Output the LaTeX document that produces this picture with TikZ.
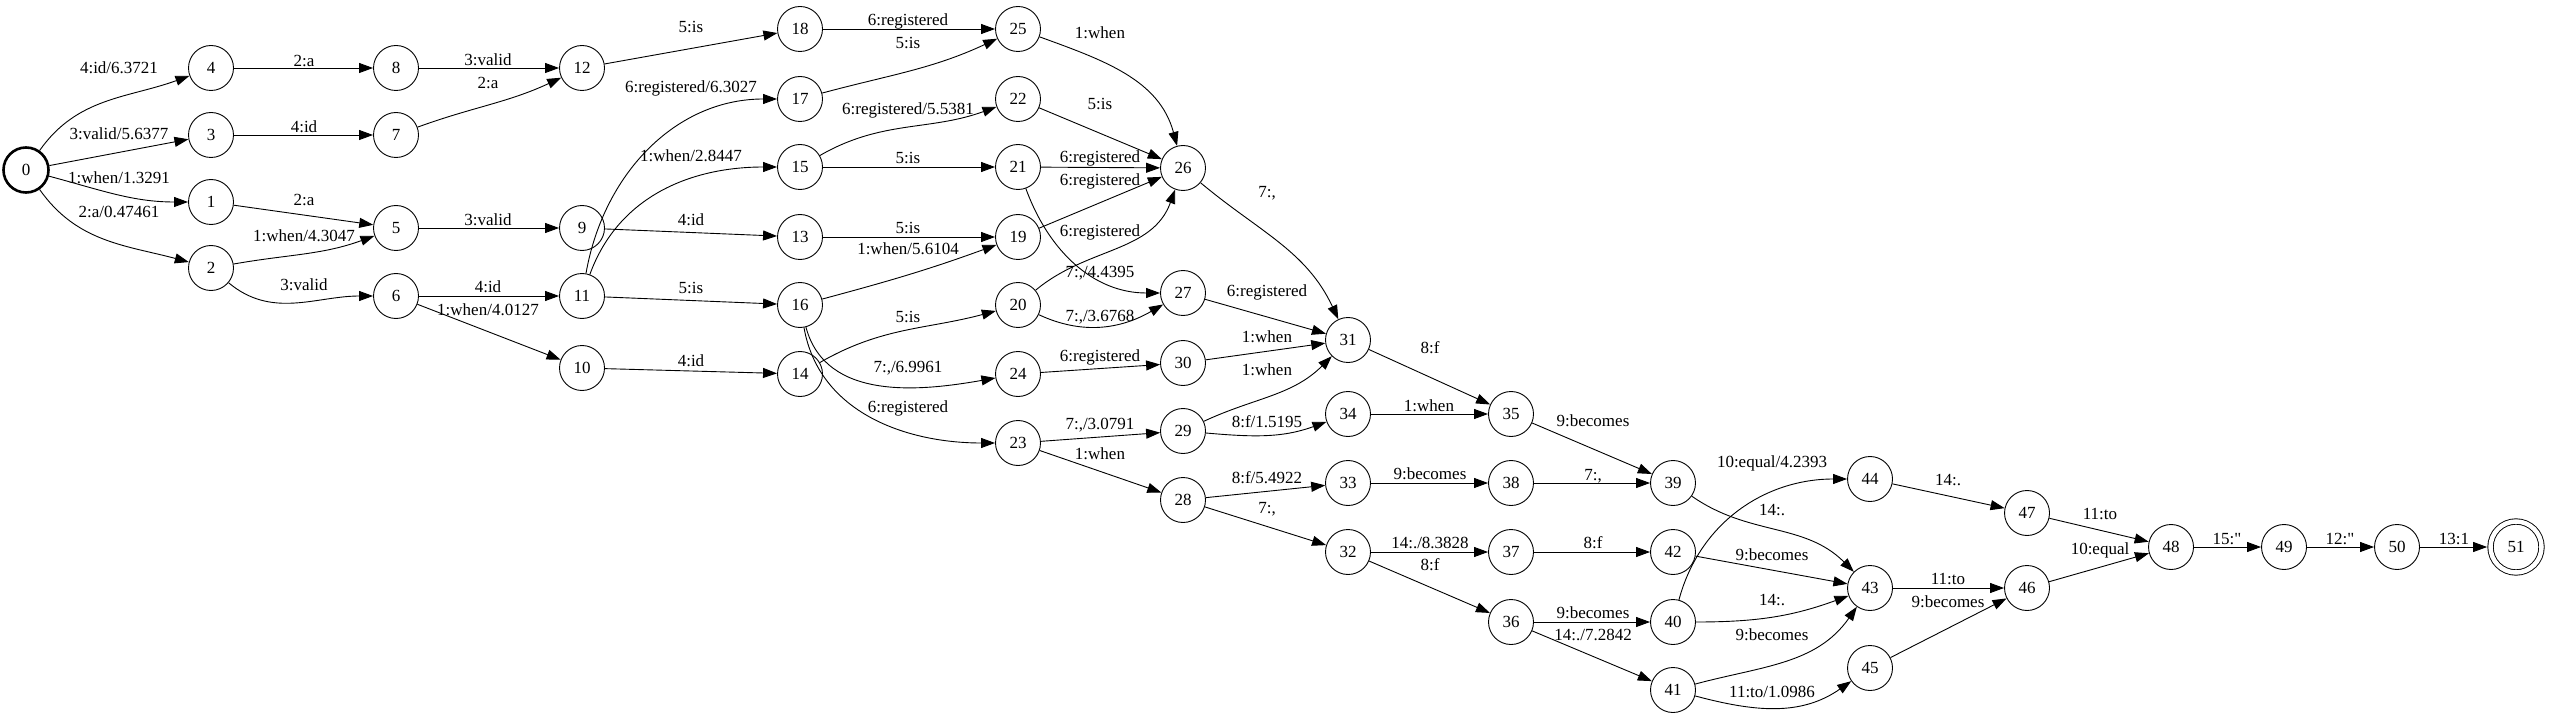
\documentclass[tikz,border=0pt]{standalone}
\usepackage{fontspec}
\setmainfont{Liberation Serif}
\usetikzlibrary{arrows.meta}

\begin{document}
\begin{tikzpicture}[x=1pt, y=1pt,
  every node/.style={font=\fontsize{17}{20}\selectfont},
  fststate/.style={circle, draw, line width=0.9pt, minimum size=45pt, inner sep=0pt},
  startstate/.style={fststate, line width=2.6pt},
  finalstate/.style={fststate, double, double distance=4.5pt, minimum size=51pt, outer sep=3.4pt},
  trans/.style={-{Triangle[length=14pt, width=10pt]}, line width=0.9pt},
  tlabel/.style={inner sep=0pt}]

\useasboundingbox (0,0) rectangle (2550,-719);

% States
\node[startstate] (n0) at (26,-170) {0};
\foreach \n/\x/\y in {4/211/68, 3/211/135, 1/211/202, 2/211/268,
    8/396/68, 7/396/135, 5/396/228, 6/396/296,
    12/582/68, 9/582/228, 11/582/296, 10/582/368,
    18/800/29, 17/800/99, 15/800/167, 13/800/237, 16/800/305, 14/800/374,
    25/1018/29, 22/1018/99, 21/1018/167, 19/1018/237, 20/1018/305, 24/1018/374, 23/1018/443,
    26/1183/168, 27/1183/293, 30/1183/363, 29/1183/431, 28/1183/500,
    31/1348/340, 34/1348/414, 33/1348/483, 32/1348/552,
    35/1511/414, 38/1511/483, 37/1511/552, 36/1511/622,
    39/1673/483, 42/1673/552, 40/1673/622, 41/1673/690,
    44/1870/479, 43/1870/588, 45/1870/668,
    47/2027/513, 46/2027/588,
    48/2171/547, 49/2284/547, 50/2397/547} {
    \node[fststate] (n\n) at (\x,-\y) {\n};
}
\node[finalstate] (n51) at (2516,-547) {51};

% Straight transitions
\foreach \a/\b/\lx/\ly/\t in {0/3/119/134/{3:valid/5.6377},
    4/8/304/61/{2:a}, 3/7/304/127/{4:id}, 1/5/304/200/{2:a},
    8/12/488/60/{3:valid}, 5/9/488/220/{3:valid}, 6/11/488/287/{4:id},
    6/10/488/310/{1:when/4.0127},
    12/18/691/27/{5:is}, 9/13/691/220/{4:id}, 11/16/691/288/{5:is},
    10/14/691/361/{4:id},
    18/25/908/21/{6:registered}, 15/21/908/158/{5:is}, 13/19/908/228/{5:is},
    22/26/1100/104/{5:is}, 21/26/1100/158/{6:registered},
    19/26/1100/181/{6:registered}, 24/30/1100/357/{6:registered},
    23/29/1100/425/{7:,/3.0791}, 23/28/1100/454/{1:when},
    27/31/1267/292/{6:registered}, 30/31/1267/337/{1:when},
    28/33/1267/478/{8:f/5.4922}, 28/32/1267/509/{7:,},
    31/35/1430/348/{8:f}, 34/35/1429/406/{1:when},
    33/38/1430/474/{9:becomes}, 32/37/1430/543/{14:./8.3828},
    32/36/1430/565/{8:f},
    35/39/1593/421/{9:becomes}, 38/39/1593/476/{7:,}, 37/42/1593/543/{8:f},
    36/40/1593/613/{9:becomes}, 36/41/1593/635/{14:./7.2842},
    42/43/1772/555/{9:becomes},
    44/47/1948/480/{14:.}, 43/46/1948/579/{11:to}, 45/46/1948/602/{9:becomes},
    47/48/2100/514/{11:to}, 46/48/2100/550/{10:equal},
    48/49/2227/539/{15:\textquotedbl}, 49/50/2340/539/{12:\textquotedbl},
    50/51/2454/539/{13:1}} {
    \draw[trans] (n\a) -- (n\b) node[tlabel] at (\lx,-\ly) {\t};
}

% Curved transitions
\draw[trans] (n0) to[out=55, in=200] (n4) node[tlabel] at (119,-68) {4:id/6.3721};
\draw[trans] (n0) to[out=-15, in=180] (n1) node[tlabel] at (119,-178) {1:when/1.3291};
\draw[trans] (n0) to[out=-55, in=165] (n2) node[tlabel] at (119,-212) {2:a/0.47461};
\draw[trans] (n2) to[out=10, in=200] (n5) node[tlabel] at (304,-236) {1:when/4.3047};
\draw[trans] (n2) to[out=-40, in=180] (n6) node[tlabel] at (304,-285) {3:valid};
\draw[trans] (n7) to[out=20, in=205] (n12) node[tlabel] at (488,-83) {2:a};
\draw[trans] (n11) to[out=80, in=180] (n17) node[tlabel] at (691,-88) {6:registered/6.3027};
\draw[trans] (n11) to[out=70, in=180] (n15) node[tlabel] at (691,-156) {1:when/2.8447};
\draw[trans] (n17) to[out=15, in=205] (n25) node[tlabel] at (908,-43) {5:is};
\draw[trans] (n15) to[out=30, in=200] (n22) node[tlabel] at (908,-110) {6:registered/5.5381};
\draw[trans] (n16) to[out=15, in=200] (n19) node[tlabel] at (908,-249) {1:when/5.6104};
\draw[trans] (n14) to[out=30, in=195] (n20) node[tlabel] at (908,-317) {5:is};
\draw[trans] (n16) to[out=-75, in=190] (n24) node[tlabel] at (908,-368) {7:,/6.9961};
\draw[trans] (n16) to[out=-80, in=180] (n23) node[tlabel] at (908,-408) {6:registered};
\draw[trans] (n25) to[out=-20, in=105] (n26) node[tlabel] at (1100,-33) {1:when};
\draw[trans] (n20) to[out=40, in=-110] (n26) node[tlabel] at (1100,-232) {6:registered};
\draw[trans] (n21) to[out=-70, in=180] (n27) node[tlabel] at (1100,-273) {7:,/4.4395};
\draw[trans] (n20) to[out=-25, in=210] (n27) node[tlabel] at (1100,-317) {7:,/3.6768};
\draw[trans] (n26) to[out=-40, in=115] (n31) node[tlabel] at (1267,-193) {7:,};
\draw[trans] (n29) to[out=25, in=225] (n31) node[tlabel] at (1267,-370) {1:when};
\draw[trans] (n29) to[out=-5, in=200] (n34) node[tlabel] at (1267,-422) {8:f/1.5195};
\draw[trans] (n40) to[out=75, in=180] (n44) node[tlabel] at (1772,-463) {10:equal/4.2393};
\draw[trans] (n39) to[out=-35, in=135] (n43) node[tlabel] at (1772,-510) {14:.};
\draw[trans] (n40) to[out=0, in=200] (n43) node[tlabel] at (1772,-600) {14:.};
\draw[trans] (n41) to[out=15, in=235] (n43) node[tlabel] at (1772,-635) {9:becomes};
\draw[trans] (n41) to[out=-15, in=215] (n45) node[tlabel] at (1772,-692) {11:to/1.0986};

\end{tikzpicture}
\end{document}
